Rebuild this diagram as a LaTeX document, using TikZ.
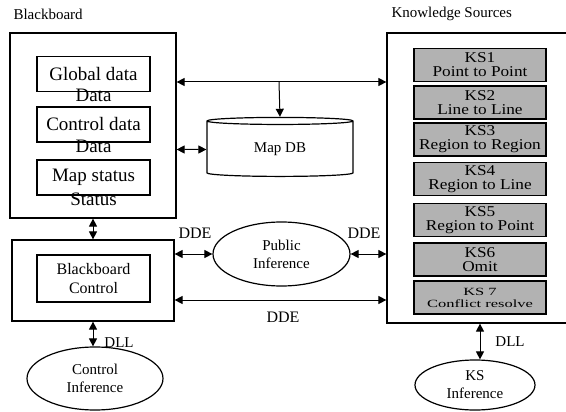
\documentclass[tikz,border=0pt]{standalone}
\usepackage{fontspec}
\setmainfont{Liberation Serif}
\newfontfamily\ksfont{Liberation Serif}[FakeStretch=1.15]
\newfontfamily\kssmall{Liberation Serif}[FakeStretch=1.5]
\usepackage{tikz}
\usetikzlibrary{shapes.geometric,arrows.meta,positioning}

\tikzset{
  outerbox/.style={rectangle, draw, line width=1.2pt, inner sep=0pt},
  databox/.style={rectangle, draw, line width=1.2pt, minimum width=113pt, minimum height=35pt, font=\fontsize{19}{21}\selectfont},
  ksbox/.style={rectangle, draw, line width=1.6pt, fill=black!30, minimum width=132pt, minimum height=33pt, align=center, inner sep=0pt, font=\ksfont\fontsize{15}{14}\selectfont},
  infer/.style={ellipse, draw, line width=1.2pt, align=center, font=\fontsize{15}{18}\selectfont},
  lbl/.style={font=\fontsize{15}{17}\selectfont},
  link/.style={{Triangle[length=8pt,width=8pt]}-{Triangle[length=8pt,width=8pt]}, line width=1pt}
}

\begin{document}
\begin{tikzpicture}[x=1pt, y=-1pt]
    \useasboundingbox (0,0) rectangle (566,412);

    % blackboard side
    \node [lbl, anchor=west] (bbtitle) at (10,14) {Blackboard};
    \node [outerbox, minimum width=166pt, minimum height=185pt] (bb) at (93,125.5) {};
    \node [databox] (gdata) at (93.5,74) {Global data};
    \node [lbl, font=\fontsize{19}{21}\selectfont] (gdatalbl) at (93.5,95) {Data};
    \node [databox] (cdata) at (93.5,124.5) {Control data};
    \node [lbl, font=\fontsize{19}{21}\selectfont] (cdatalbl) at (93.5,146) {Data};
    \node [databox] (mstat) at (93.5,177.5) {Map status};
    \node [lbl, font=\fontsize{19}{21}\selectfont] (mstatlbl) at (93.5,199) {Status};

    \node [outerbox, minimum width=162pt, minimum height=81pt] (bbc) at (93,280.5) {};
    \node [rectangle, draw, line width=1.2pt, minimum width=113pt, minimum height=47pt, align=center, font=\fontsize{16}{19}\selectfont] (bbcin) at (93.5,278.5) {Blackboard\\Control};
    \node [infer, minimum width=136pt, minimum height=63pt] (ctrlinf) at (95,378.5) {Control\\Inference};

    % map database
    \node [cylinder, shape border rotate=90, draw, line width=1.2pt, aspect=0.12, minimum width=146pt, minimum height=59pt, font=\fontsize{15}{17}\selectfont] (mapdb) at (280,149.5) {Map DB};

    % knowledge sources
    \node [lbl, anchor=west] (kstitle) at (388,14) {Knowledge Sources};
    \node [outerbox, minimum width=190pt, minimum height=290pt] (ks) at (482,178) {};
    \node [ksbox] (ks1) at (480,65) {KS1\\Point to Point};
    \node [ksbox] (ks2) at (480,102.5) {KS2\\Line to Line};
    \node [ksbox] (ks3) at (480,139.5) {KS3\\Region to Region};
    \node [ksbox] (ks4) at (480,179) {KS4\\Region to Line};
    \node [ksbox] (ks5) at (480,220) {KS5\\Region to Point};
    \node [ksbox] (ks6) at (480,259.5) {KS6\\Omit};
    \node [ksbox, font=\kssmall\fontsize{11}{12}\selectfont] (ks7) at (480,297.5) {KS 7\\Conflict resolve};
    \node [infer, minimum width=120pt, minimum height=50pt] (ksinf) at (475,385) {KS\\Inference};

    \node [infer, minimum width=137pt, minimum height=64pt] (pubinf) at (281.5,254) {Public\\Inference};

    % connectors
    \coordinate (topjoin) at (279,82);
    \coordinate (lowjoin) at (280,300);
    \draw [link] (bb.east |- topjoin) -- (ks.west |- topjoin);
    \draw [-{Triangle[length=8pt,width=8pt]}, line width=1pt] (topjoin) -- (mapdb.north);
    \draw [link] (bb.east |- mapdb) -- (mapdb.west);
    \draw [link] (bb.south) -- (bbc.north);
    \draw [link] (bbc.east |- pubinf) -- (pubinf.west);
    \draw [link] (pubinf.east) -- (ks.west |- pubinf);
    \draw [link] (bbc.east |- lowjoin) -- (ks.west |- lowjoin);
    \draw [link] (bbc.south) -- (bbc.south |- ctrlinf.north);
    \draw [link] (ks.south -| ks7) -- (ks7 |- ksinf.north);

    \node [lbl, font=\fontsize{16}{18}\selectfont] (ddeleft) at (195,233) {DDE};
    \node [lbl, font=\fontsize{16}{18}\selectfont] (dderight) at (364,233) {DDE};
    \node [lbl, font=\fontsize{16}{18}\selectfont] (ddelow) at (283,317) {DDE};
    \node [lbl] (dllleft) at (119,343) {DLL};
    \node [lbl] (dllright) at (510,342) {DLL};
\end{tikzpicture}
\end{document}
